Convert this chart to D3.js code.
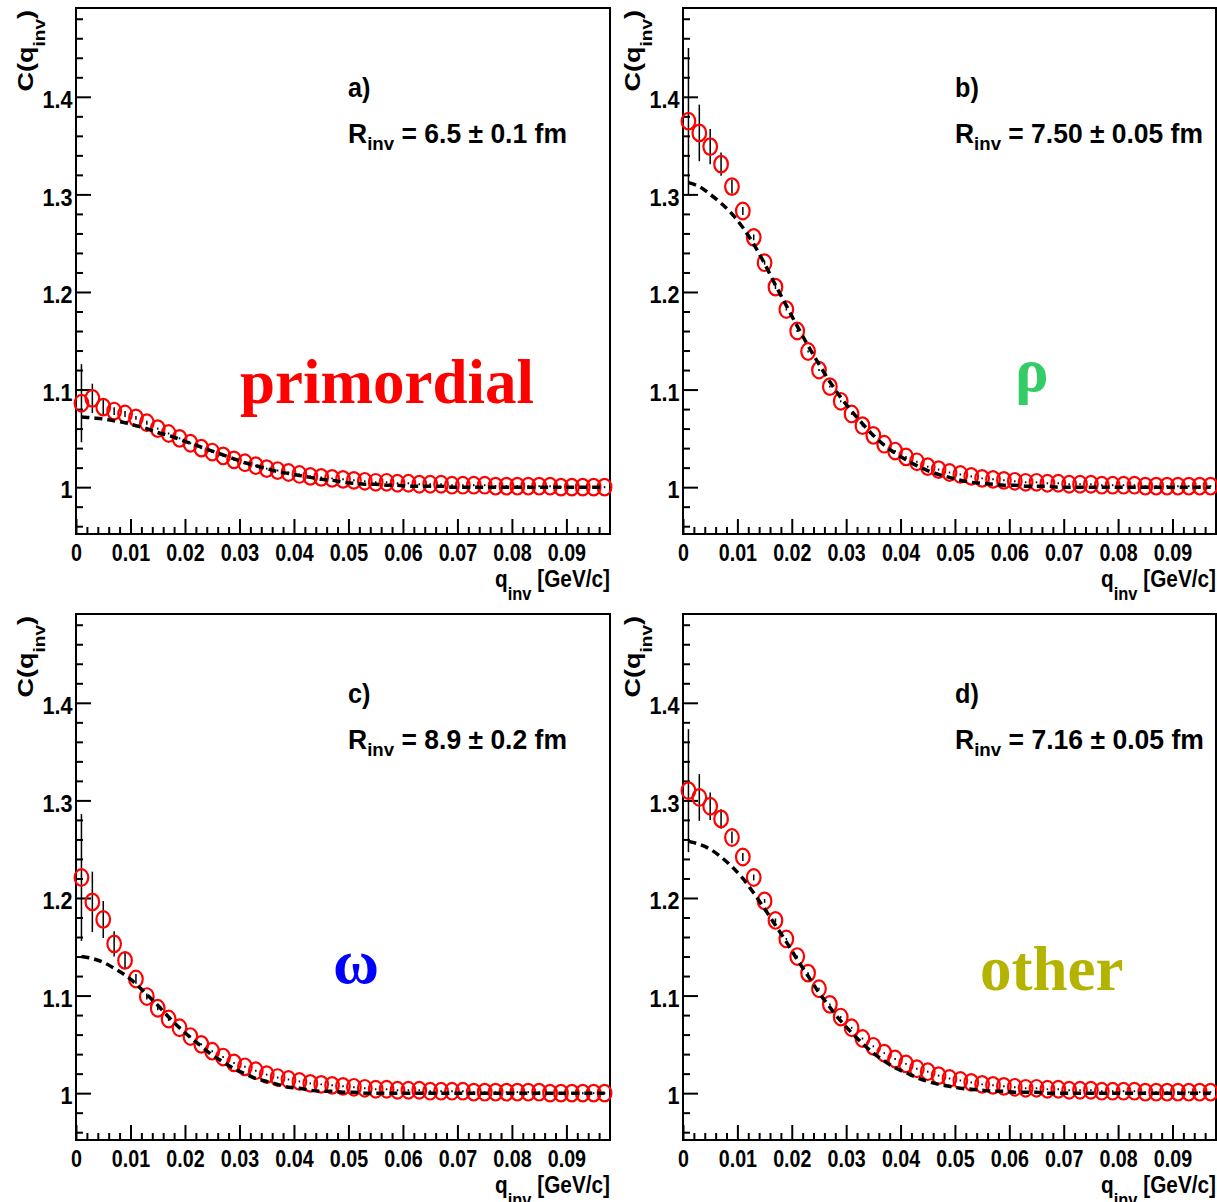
<!DOCTYPE html>
<html>
<head>
<meta charset="utf-8">
<script src="https://cdn.jsdelivr.net/npm/d3@7"></script>
<style>
  body { margin: 0; background: #fff; }
  svg { display: block; }
  text { white-space: pre; }
</style>
</head>
<body>
<svg id="fig" width="1217" height="1202"></svg>
<script>
// q_inv bin centres [GeV/c]
const qBins = [
  0.001, 0.003, 0.005, 0.007, 0.009, 0.011, 0.013, 0.015, 0.017, 0.019,
  0.021, 0.023, 0.025, 0.027, 0.029, 0.031, 0.033, 0.035, 0.037, 0.039,
  0.041, 0.043, 0.045, 0.047, 0.049, 0.051, 0.053, 0.055, 0.057, 0.059,
  0.061, 0.063, 0.065, 0.067, 0.069, 0.071, 0.073, 0.075, 0.077, 0.079,
  0.081, 0.083, 0.085, 0.087, 0.089, 0.091, 0.093, 0.095, 0.097
];

// a) primordial
const corrPrimordial = [
  1.086, 1.091, 1.082, 1.078, 1.075, 1.071, 1.066, 1.060, 1.055, 1.050,
  1.045, 1.040, 1.036, 1.032, 1.028, 1.025, 1.022, 1.019, 1.017, 1.015,
  1.013, 1.011, 1.010, 1.009, 1.008, 1.007, 1.006, 1.005, 1.005, 1.004,
  1.004, 1.003, 1.003, 1.003, 1.002, 1.002, 1.002, 1.002, 1.001, 1.001,
  1.001, 1.001, 1.001, 1.001, 1.000, 1.000, 1.000, 1.000, 1.000
];
const errPrimordial = [
  0.040, 0.015, 0.008, 0.004, 0.003, 0.002, 0.002, 0.001, 0.001, 0.001,
  0.001, 0.001, 0.001, 0.001, 0.001, 0.001, 0.001, 0.001, 0.001, 0.001,
  0.001, 0.001, 0.001, 0.001, 0.001, 0.001, 0.001, 0.001, 0.001, 0.001,
  0.001, 0.001, 0.001, 0.001, 0.001, 0.001, 0.001, 0.001, 0.001, 0.001,
  0.001, 0.001, 0.001, 0.001, 0.001, 0.001, 0.001, 0.001, 0.001
];
const fitPrimordial = [
  1.072, 1.071, 1.070, 1.068, 1.066, 1.063, 1.060, 1.056, 1.053, 1.049,
  1.045, 1.041, 1.037, 1.033, 1.029, 1.025, 1.022, 1.019, 1.016, 1.014,
  1.012, 1.010, 1.008, 1.007, 1.005, 1.004, 1.003, 1.003, 1.002, 1.002,
  1.001, 1.001, 1.001, 1.001, 1.000, 1.000, 1.000, 1.000, 1.000, 1.000,
  1.000, 1.000, 1.000, 1.000, 1.000, 1.000, 1.000, 1.000, 1.000
];

// b) rho
const corrRho = [
  1.375, 1.363, 1.349, 1.331, 1.308, 1.283, 1.256, 1.230, 1.205, 1.182,
  1.160, 1.139, 1.120, 1.103, 1.088, 1.075, 1.063, 1.053, 1.044, 1.037,
  1.031, 1.026, 1.021, 1.018, 1.015, 1.013, 1.011, 1.009, 1.008, 1.007,
  1.006, 1.005, 1.005, 1.004, 1.004, 1.003, 1.003, 1.003, 1.002, 1.002,
  1.002, 1.002, 1.001, 1.001, 1.001, 1.001, 1.001, 1.001, 1.001
];
const errRho = [
  0.075, 0.029, 0.018, 0.012, 0.007, 0.004, 0.003, 0.002, 0.002, 0.001,
  0.001, 0.001, 0.001, 0.001, 0.001, 0.001, 0.001, 0.001, 0.001, 0.001,
  0.001, 0.001, 0.001, 0.001, 0.001, 0.001, 0.001, 0.001, 0.001, 0.001,
  0.001, 0.001, 0.001, 0.001, 0.001, 0.001, 0.001, 0.001, 0.001, 0.001,
  0.001, 0.001, 0.001, 0.001, 0.001, 0.001, 0.001, 0.001, 0.001
];
const fitRho = [
  1.312, 1.308, 1.300, 1.291, 1.280, 1.266, 1.249, 1.229, 1.207, 1.186,
  1.165, 1.145, 1.126, 1.108, 1.092, 1.078, 1.065, 1.053, 1.043, 1.035,
  1.028, 1.022, 1.017, 1.013, 1.010, 1.007, 1.005, 1.004, 1.003, 1.002,
  1.002, 1.001, 1.001, 1.001, 1.000, 1.000, 1.000, 1.000, 1.000, 1.000,
  1.000, 1.000, 1.000, 1.000, 1.000, 1.000, 1.000, 1.000, 1.000
];

// c) omega
const corrOmega = [
  1.221, 1.196, 1.178, 1.153, 1.136, 1.117, 1.099, 1.087, 1.076, 1.067,
  1.058, 1.050, 1.043, 1.037, 1.031, 1.027, 1.023, 1.019, 1.016, 1.014,
  1.012, 1.010, 1.009, 1.008, 1.007, 1.006, 1.005, 1.004, 1.004, 1.003,
  1.003, 1.003, 1.002, 1.002, 1.002, 1.002, 1.001, 1.001, 1.001, 1.001,
  1.001, 1.001, 1.001, 1.000, 1.000, 1.000, 1.000, 1.000, 1.000
];
const errOmega = [
  0.065, 0.031, 0.019, 0.013, 0.008, 0.005, 0.003, 0.002, 0.002, 0.001,
  0.001, 0.001, 0.001, 0.001, 0.001, 0.001, 0.001, 0.001, 0.001, 0.001,
  0.001, 0.001, 0.001, 0.001, 0.001, 0.001, 0.001, 0.001, 0.001, 0.001,
  0.001, 0.001, 0.001, 0.001, 0.001, 0.001, 0.001, 0.001, 0.001, 0.001,
  0.001, 0.001, 0.001, 0.001, 0.001, 0.001, 0.001, 0.001, 0.001
];
const fitOmega = [
  1.140, 1.138, 1.134, 1.128, 1.121, 1.112, 1.101, 1.090, 1.078, 1.067,
  1.057, 1.048, 1.039, 1.032, 1.025, 1.020, 1.015, 1.012, 1.009, 1.006,
  1.005, 1.003, 1.002, 1.002, 1.001, 1.001, 1.000, 1.000, 1.000, 1.000,
  1.000, 1.000, 1.000, 1.000, 1.000, 1.000, 1.000, 1.000, 1.000, 1.000,
  1.000, 1.000, 1.000, 1.000, 1.000, 1.000, 1.000, 1.000, 1.000
];

// d) other
const corrOther = [
  1.310, 1.303, 1.294, 1.281, 1.262, 1.242, 1.221, 1.197, 1.177, 1.158,
  1.140, 1.123, 1.107, 1.091, 1.078, 1.067, 1.056, 1.048, 1.041, 1.035,
  1.030, 1.025, 1.022, 1.018, 1.015, 1.013, 1.011, 1.009, 1.008, 1.007,
  1.006, 1.005, 1.005, 1.004, 1.004, 1.003, 1.003, 1.003, 1.002, 1.002,
  1.002, 1.002, 1.001, 1.001, 1.001, 1.001, 1.001, 1.001, 1.001
];
const errOther = [
  0.063, 0.024, 0.014, 0.010, 0.006, 0.004, 0.003, 0.002, 0.002, 0.001,
  0.001, 0.001, 0.001, 0.001, 0.001, 0.001, 0.001, 0.001, 0.001, 0.001,
  0.001, 0.001, 0.001, 0.001, 0.001, 0.001, 0.001, 0.001, 0.001, 0.001,
  0.001, 0.001, 0.001, 0.001, 0.001, 0.001, 0.001, 0.001, 0.001, 0.001,
  0.001, 0.001, 0.001, 0.001, 0.001, 0.001, 0.001, 0.001, 0.001
];
const fitOther = [
  1.258, 1.255, 1.250, 1.242, 1.232, 1.220, 1.205, 1.189, 1.172, 1.155,
  1.137, 1.120, 1.103, 1.088, 1.074, 1.062, 1.051, 1.041, 1.033, 1.026,
  1.021, 1.016, 1.012, 1.009, 1.007, 1.005, 1.004, 1.003, 1.002, 1.002,
  1.001, 1.001, 1.001, 1.000, 1.000, 1.000, 1.000, 1.000, 1.000, 1.000,
  1.000, 1.000, 1.000, 1.000, 1.000, 1.000, 1.000, 1.000, 1.000
];

// axis ticks and labels
const xTicks = [0, 0.01, 0.02, 0.03, 0.04, 0.05, 0.06, 0.07, 0.08, 0.09];
const xTickLabels = ["0", "0.01", "0.02", "0.03", "0.04", "0.05", "0.06", "0.07", "0.08", "0.09"];
const yTicks = [1, 1.1, 1.2, 1.3, 1.4];
const yTickLabels = ["1", "1.1", "1.2", "1.3", "1.4"];

// panel annotations
const panelTags = ["a)", "b)", "c)", "d)"];
const radiusValues = ["6.5 \u00b1 0.1 fm", "7.50 \u00b1 0.05 fm", "8.9 \u00b1 0.2 fm", "7.16 \u00b1 0.05 fm"];
const sourceNames = ["primordial", "\u03c1", "\u03c9", "other"];
const sourceColors = ["#ff0000", "#33cc66", "#0000ff", "#b4b400"];

// ---------------------------------------------------------------
const helv = "'Liberation Sans', Arial, Helvetica, sans-serif";
const times = "'Liberation Serif', 'Times New Roman', serif";

const svg = d3.select("#fig");
svg.append("rect").attr("width", 1217).attr("height", 1202).attr("fill", "#fff");

const panels = [
  { left: 76,  top: 8,   w: 534, corr: corrPrimordial, err: errPrimordial, fit: fitPrimordial, name: [164, 395], rWidth: 219 },
  { left: 683, top: 8,   w: 533, corr: corrRho,        err: errRho,        fit: fitRho,        name: [332, 383], rWidth: 248 },
  { left: 76,  top: 614, w: 534, corr: corrOmega,      err: errOmega,      fit: fitOmega,      name: [257, 369], rWidth: 219 },
  { left: 683, top: 614, w: 533, corr: corrOther,      err: errOther,      fit: fitOther,      name: [297, 376], rWidth: 249 }
];
const plotH = 526;

// bold text built from tspans, optionally squeezed horizontally / rotated
function label(parent, x, y, parts, o) {
  const g = parent.append("g");
  const t = g.append("text")
    .attr("font-family", o.family || helv)
    .attr("font-weight", "bold")
    .attr("font-size", o.size)
    .attr("fill", o.fill || "#000")
    .attr("text-anchor", o.anchor || "start");
  parts.forEach(p => {
    t.append("tspan")
      .attr("font-size", p.size || o.size)
      .attr("dy", p.dy || 0)
      .text(p.text);
  });
  let kx = o.kx || 1;
  if (o.width) kx = o.width / t.node().getComputedTextLength();
  g.attr("transform", `translate(${x},${y}) scale(${kx},1)` + (o.rotate ? " rotate(-90)" : ""));
  return g;
}

panels.forEach((p, i) => {
  const g = svg.append("g").attr("transform", `translate(${p.left},${p.top})`);
  const x = d3.scaleLinear().domain([0, 0.098]).range([0, p.w]);
  const y = d3.scaleLinear().domain([0.952, 1.491]).range([plotH, 0]);

  // minor ticks
  const xMinor = d3.range(1, 49).map(k => k * 0.002).filter(v => Math.abs(v * 100 - Math.round(v * 100)) > 1e-6);
  const yMinor = d3.range(48, 75).map(k => k * 0.02).filter(v => v > 0.952 && v < 1.491 && Math.abs(v * 10 - Math.round(v * 10)) > 1e-6);

  const styleAxis = sel => {
    sel.select(".domain").remove();
    sel.selectAll("line").attr("stroke", "#000").attr("stroke-width", 2);
  };

  g.append("g").attr("transform", `translate(0,${plotH})`)
    .call(d3.axisBottom(x).tickValues(xMinor).tickSize(-7).tickSizeOuter(0).tickFormat(""))
    .call(styleAxis);
  g.append("g")
    .call(d3.axisLeft(y).tickValues(yMinor).tickSize(-7).tickSizeOuter(0).tickFormat(""))
    .call(styleAxis);

  const xAx = g.append("g").attr("transform", `translate(0,${plotH})`)
    .call(d3.axisBottom(x).tickValues(xTicks).tickSize(-15).tickSizeOuter(0).tickPadding(10)
      .tickFormat((d, k) => xTickLabels[k]))
    .call(styleAxis);
  xAx.selectAll("text")
    .attr("font-family", helv).attr("font-weight", "bold").attr("font-size", 24)
    .attr("fill", "#000").attr("transform", "scale(0.82,1)");

  const yAx = g.append("g")
    .call(d3.axisLeft(y).tickValues(yTicks).tickSize(-15).tickSizeOuter(0).tickPadding(4)
      .tickFormat((d, k) => yTickLabels[k]))
    .call(styleAxis);
  yAx.selectAll("text")
    .attr("font-family", helv).attr("font-weight", "bold").attr("font-size", 24)
    .attr("fill", "#000").attr("dy", "0.45em").attr("transform", "scale(0.9,1)");

  // frame
  g.append("rect").attr("x", 0).attr("y", 0).attr("width", p.w).attr("height", plotH)
    .attr("fill", "none").attr("stroke", "#000").attr("stroke-width", 2);

  // axis titles
  label(g, p.w, 579, [
    { text: "q" },
    { text: "inv", size: 19, dy: 13 },
    { text: " [GeV/c]", dy: -13 }
  ], { size: 24, anchor: "end", width: 115 });

  label(g, -43, 2, [
    { text: "C(q" },
    { text: "inv", size: 19, dy: 14 },
    { text: ")", dy: -14 }
  ], { size: 27, anchor: "end", rotate: true, kx: 0.85 });

  // panel tag and fitted radius
  label(g, 272, 89, [{ text: panelTags[i] }], { size: 28, kx: 0.9 });
  label(g, 272, 135, [
    { text: "R" },
    { text: "inv", size: 19, dy: 7 },
    { text: " = " + radiusValues[i], dy: -7 }
  ], { size: 27, width: p.rWidth });

  // source name
  g.append("text")
    .attr("x", p.name[0]).attr("y", p.name[1])
    .attr("font-family", times).attr("font-weight", "bold").attr("font-size", 63)
    .attr("fill", sourceColors[i])
    .text(sourceNames[i]);

  const pts = qBins.map((q, k) => ({ q, c: p.corr[k], e: p.err[k], f: p.fit[k] }));

  // error bars
  g.append("g").selectAll("line").data(pts).join("line")
    .attr("x1", d => x(d.q)).attr("x2", d => x(d.q))
    .attr("y1", d => y(d.c - d.e)).attr("y2", d => y(d.c + d.e))
    .attr("stroke", "#000").attr("stroke-width", 1.5);

  // markers
  g.append("g").selectAll("ellipse").data(pts).join("ellipse")
    .attr("cx", d => x(d.q)).attr("cy", d => y(d.c))
    .attr("rx", 6.8).attr("ry", 8.3)
    .attr("fill", "none").attr("stroke", "#ff0000").attr("stroke-width", 2.2);

  // fitted curve
  g.append("path").datum(pts)
    .attr("d", d3.line().x(d => x(d.q)).y(d => y(d.f)).curve(d3.curveMonotoneX))
    .attr("fill", "none").attr("stroke", "#000").attr("stroke-width", 3.5)
    .attr("stroke-dasharray", "8,5");
});
</script>
</body>
</html>
